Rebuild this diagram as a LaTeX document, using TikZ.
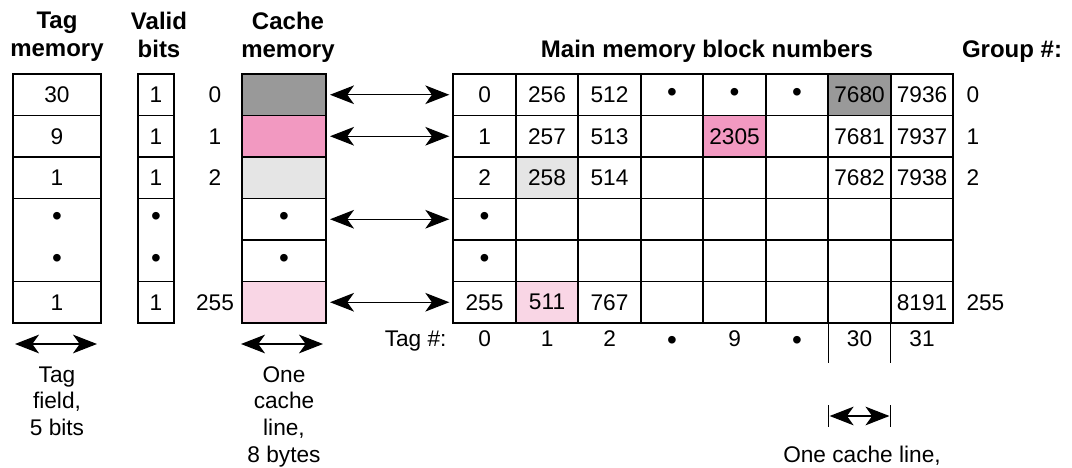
\documentclass[tikz,border=0pt]{standalone}
\usepackage{fontspec}
\setmainfont{Liberation Sans}
\usetikzlibrary{arrows.meta,backgrounds}

\definecolor{darkcell}{RGB}{153,153,153}
\definecolor{pinkcell}{RGB}{242,153,193}
\definecolor{greycell}{RGB}{229,229,229}
\definecolor{lightpinkcell}{RGB}{249,214,229}

\newcommand{\dotmark}{\raisebox{-2.5pt}{\fontsize{21}{21}\selectfont •}}

\tikzset{every picture/.style={line width=0.75pt}}

\begin{document}
\begin{tikzpicture}[x=0.75pt,y=0.75pt,yscale=-1,xscale=1,
  txt/.style={inner sep=0pt, font=\fontsize{17}{20}\selectfont},
  head/.style={inner sep=0pt, align=center, font=\fontsize{18}{21}\selectfont\bfseries},
  cell/.style={txt, draw, line width=1.3pt, outer sep=0pt, minimum width=46.875pt, minimum height=31.125pt},
  biarrow/.style={line width=0.9pt, {Stealth[length=18pt,width=14pt,inset=5pt]}-{Stealth[length=18pt,width=14pt,inset=5pt]}}]
%set diagram left start at 0, and has height of 468
\path[use as bounding box] (0,0) rectangle (1072,468);

% Headings
\node[head, anchor=north] (htag) at (57,11.5) {Tag\\memory};
\node[head, anchor=north] (hvalid) at (159,11.5) {Valid\\bits};
\node[head, anchor=north] (hcache) at (288,11.5) {Cache\\memory};
\node[head, anchor=base] (hmain) at (707,57) {Main memory block numbers};
\node[head, anchor=base] (hgroup) at (1012,57) {Group \#:};

% Tag memory
\node[cell, minimum width=66pt] (t0) at (57,94.75) {30};
\node[cell, minimum width=66pt] (t1) at (57,136.25) {9};
\node[cell, minimum width=66pt] (t2) at (57,177.75) {1};
\node[cell, minimum width=66pt, minimum height=62.25pt] (t3) at (57,240) {};
\node[txt] (t3a) at (57,219.25) {\dotmark};
\node[txt] (t3b) at (57,260.75) {\dotmark};
\node[cell, minimum width=66pt] (t5) at (57,302.25) {1};

% Valid bits
\node[cell, minimum width=27pt] (v0) at (156,94.75) {1};
\node[cell, minimum width=27pt] (v1) at (156,136.25) {1};
\node[cell, minimum width=27pt] (v2) at (156,177.75) {1};
\node[cell, minimum width=27pt, minimum height=62.25pt] (v3) at (156,240) {};
\node[txt] (v3a) at (156,219.25) {\dotmark};
\node[txt] (v3b) at (156,260.75) {\dotmark};
\node[cell, minimum width=27pt] (v5) at (156,302.25) {1};

% Cache memory
\node[cell, minimum width=63pt, fill=darkcell] (c0) at (284,94.75) {};
\node[cell, minimum width=63pt, fill=pinkcell] (c1) at (284,136.25) {};
\node[cell, minimum width=63pt, fill=greycell] (c2) at (284,177.75) {};
\node[cell, minimum width=63pt] (c3) at (284,219.25) {\dotmark};
\node[cell, minimum width=63pt] (c4) at (284,260.75) {\dotmark};
\node[cell, minimum width=63pt, fill=lightpinkcell] (c5) at (284,302.25) {};

% line numbers
\node[txt] (l0) at (215,94.75) {0};
\node[txt] (l1) at (215,136.25) {1};
\node[txt] (l2) at (215,177.75) {2};
\node[txt] (l5) at (215,302.25) {255};

% Main memory
\foreach \row [count=\r from 0] in {{0,256,512,\dotmark,\dotmark,\dotmark,7680,7936},{1,257,513,{},2305,{},7681,7937},{2,258,514,{},{},{},7682,7938},{\dotmark,{},{},{},{},{},{},{}},{\dotmark,{},{},{},{},{},{},{}},{255,511,767,{},{},{},{},8191}}
  \foreach \v [count=\c from 0] in \row
    \node[cell] (m\r\c) at ({484.55+62.5*\c},{94.75+41.5*\r}) {\v};
\begin{scope}[on background layer]
\foreach \n/\col in {m06/darkcell,m14/pinkcell,m21/greycell,m51/lightpinkcell}
  \fill[\col] (\n.south west) rectangle (\n.north east);
\end{scope}

% Group numbers
\foreach \v/\r in {0/0,1/1,2/2,255/5}
  \node[txt, anchor=west] (g\r) at (966,{94.75+41.5*\r}) {\v};

% Tag numbers
\node[txt, anchor=base east] (tagno) at (447,346.5) {Tag \#:};
\foreach \v [count=\c from 0] in {0,1,2,\dotmark,9,\dotmark,30,31}
  \node[txt, anchor=base] (n\c) at ({484.55+62.5*\c},346.5) {\v};

% mapping arrows
\foreach \r in {0,1,3,5}
  \draw[biarrow, shorten <=3pt, shorten >=3pt] (c\r.east) -- (m\r0.west);

% widths
\coordinate (tagl) at (15,344);
\coordinate (tagr) at (97,344);
\coordinate (cachel) at (241,344);
\coordinate (cacher) at (323,344);
\draw[biarrow] (tagl) -- (tagr);
\draw[biarrow] (cachel) -- (cacher);

% one cache line in main memory
\coordinate (e30) at (828.3,363);
\coordinate (e31) at (890.8,363);
\draw[line width=1pt] (m56.south west) -- (e30);
\draw[line width=1pt] (m57.south west) -- (e31);
\coordinate (dl) at (828.3,416);
\coordinate (dr) at (890.8,416);
\draw ([yshift=8pt]dl) -- ([yshift=-8pt]dl);
\draw ([yshift=8pt]dr) -- ([yshift=-8pt]dr);
\draw[biarrow, shorten <=1pt, shorten >=1pt] (dl) -- (dr);

% Text Node
\node[txt, anchor=north, align=center] (tagfield) at (57,366) {Tag\\field,\\5 bits};
\node[txt, anchor=north, align=center] (linesize) at (284,366) {One\\cache\\line,\\8 bytes};
\node[txt, anchor=base] (cacheline) at (862,462.7) {One cache line,};

\end{tikzpicture}
\end{document}
